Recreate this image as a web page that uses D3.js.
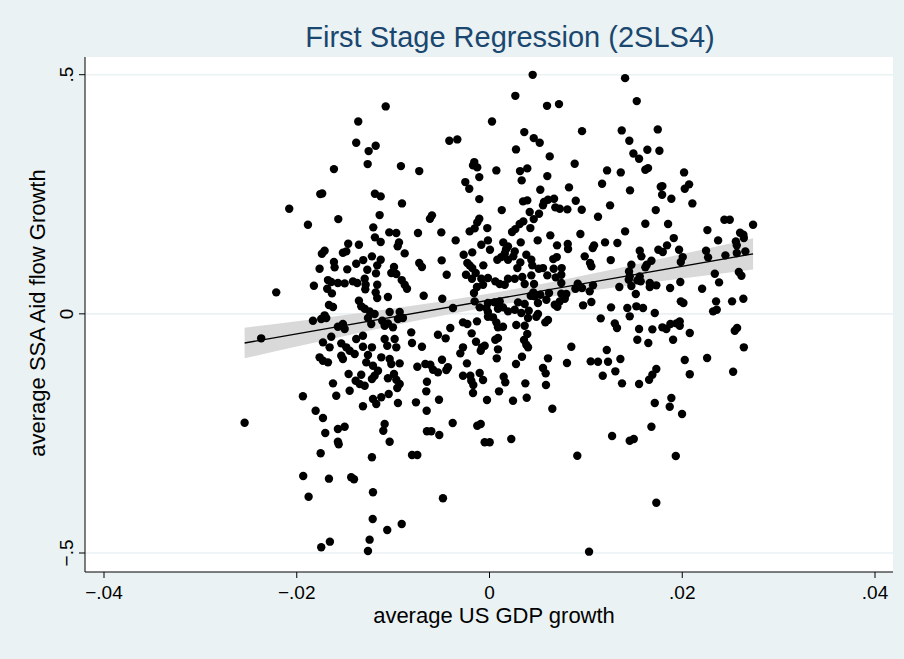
<!DOCTYPE html>
<html>
<head>
<meta charset="utf-8">
<script src="https://cdn.jsdelivr.net/npm/d3@7"></script>
<style>
  body { margin: 0; background: #eaf2f3; }
  svg { display: block; }
  text { font-family: "Liberation Sans", Arial, Helvetica, sans-serif; }
</style>
</head>
<body>
<script>
// [average US GDP growth, average SSA aid flow growth]
const points = [
  [-0.01077,0.4337],[-0.01362,0.4023],[-0.01383,0.3576],[-0.01181,0.3513],[-0.01254,0.3403],[-0.01264,0.3131],[-0.00919,0.3089],[-0.01614,0.3026],
  [0.00448,0.4997],[0.00268,0.4558],[0.00597,0.4349],[0.00721,0.4385],[0.00026,0.4023],[0.00361,0.380],[0.00459,0.3674],[0.00521,0.3576],
  [0.0096,0.382],[-0.00417,0.3618],[-0.00334,0.3647],[0.00275,0.3438],[0.00625,0.3292],[0.00884,0.3137],[-0.00729,0.2985],[-0.00158,0.3173],
  [-0.00171,0.3104],[-0.00127,0.3062],[0.00071,0.2999],[0.00317,0.2985],[0.00392,0.3041],[-0.00106,0.2859],[-0.00251,0.2755],[0.00334,0.279],
  [0.006,0.288],[-0.0021,0.2615],[0.00527,0.2594],[0.00825,0.2644],
  [0.01407,0.4928],[0.01528,0.4448],[0.01372,0.3835],[0.01746,0.3856],[0.01451,0.3618],[0.01493,0.3354],[0.01552,0.3242],[0.01638,0.343],
  [0.01763,0.3409],[0.0122,0.2999],[0.01362,0.2957],[0.01617,0.3012],[0.01645,0.3047],[0.02019,0.2957],[0.01168,0.2719],[0.01458,0.2581],
  [0.01777,0.2656],[0.01794,0.2671],[0.02026,0.2615],[0.02071,0.2707],
  [-0.01756,0.2504],[-0.01736,0.2518],[-0.01189,0.251],[-0.01129,0.2456],[-0.00908,0.2309],[-0.02078,0.2197],[-0.01884,0.1862],[-0.01569,0.1981],
  [-0.0114,0.2065],[-0.01206,0.1808],[-0.0104,0.1703],[-0.00967,0.1689],[-0.01189,0.1599],[-0.01129,0.1501],[-0.00939,0.1494],[-0.00953,0.1411],
  [-0.0088,0.1264],[-0.01466,0.1465],[-0.01355,0.1444],[-0.01711,0.1319],[-0.01739,0.1256],[-0.01521,0.1277],[-0.01486,0.1306],[-0.0122,0.1202],
  [-0.0131,0.1124],[-0.01383,0.1047],[-0.01129,0.1131],[-0.01165,0.1014],[-0.01614,0.1083],[-0.01607,0.0972],[-0.01476,0.093],[-0.01763,0.0943],
  [-0.01268,0.0922],[-0.00991,0.0978],[-0.01019,0.0853],[-0.00967,0.0832],[-0.01178,0.0846],[-0.01676,0.0706],[-0.01642,0.0665],[-0.01573,0.0644],
  [-0.01503,0.0637],[-0.01417,0.0679],[-0.01372,0.0644],[-0.01295,0.0734],[-0.01285,0.0608],[-0.01289,0.0512],[-0.01165,0.0608],[-0.00911,0.0706],
  [-0.0088,0.0608],[-0.01822,0.0587],[-0.02213,0.0449],[-0.01684,0.0525],[-0.01635,0.0428],[-0.01181,0.0449],[-0.01165,0.033],[-0.01054,0.0351],
  [-0.00856,0.0525],[-0.01355,0.0274],[-0.01666,0.0184],[-0.01624,0.0142],[-0.01331,0.0157],[-0.01295,0.0107],[-0.01244,0.0052],[-0.01192,-0.0004],
  [-0.01036,0.0038],[-0.00932,0.0038],[-0.01711,-0.0031],
  [-0.00106,0.2399],[0.00348,0.2351],[0.00392,0.2372],[0.00566,0.2337],[0.00555,0.2268],[0.00607,0.2385],[0.0067,0.2406],[0.00683,0.2226],
  [0.00729,0.2197],[0.00808,0.2184],[0.00895,0.2364],[0.00957,0.2176],[0.00127,0.2169],[0.00417,0.2128],[0.00514,0.2092],[0.00459,0.1981],
  [-0.00597,0.2059],[-0.00618,0.1988],[-0.00106,0.1988],[-0.00127,0.1912],[0.00351,0.1933],[0.00313,0.1877],[0.00268,0.1772],[0.00234,0.171],
  [0.00424,0.1793],[-0.00023,0.1793],[-0.00154,0.1787],[-0.00206,0.1724],[-0.00742,0.1689],[-0.005,0.1703],[0.00631,0.1641],[0.00943,0.1668],
  [-0.00351,0.1536],[-0.00016,0.1536],[-0.00085,0.1444],[0.00143,0.1494],[0.00192,0.1411],[0.00324,0.1494],[0.005,0.1536],[0.00701,0.1432],
  [0.00812,0.1459],[0.00815,0.1354],[-0.00179,0.1285],[0.00005,0.134],[0.00171,0.1348],[0.00158,0.1264],[0.00122,0.1187],[0.00262,0.1306],
  [0.00247,0.1202],[0.00382,0.1235],[-0.00268,0.1235],[-0.0023,0.1062],[-0.00206,0.1014],[-0.00729,0.1062],[-0.00701,0.0978],[-0.00496,0.1118],
  [0.00081,0.1131],[0.00192,0.1131],[0.0032,0.1076],[0.00434,0.1131],[0.00444,0.1014],[0.00511,0.0943],[0.00555,0.0957],[0.00662,0.1145],
  [0.00698,0.1187],[0.00988,0.1202],[-0.00064,0.1014],[0.00289,0.0957],[-0.00179,0.0957],[-0.00143,0.0853],[0.00666,0.0943],[0.00749,0.0957],
  [0.00745,0.0817],[-0.00244,0.0817],[-0.00444,0.0817],[-0.00016,0.0748],[-0.00085,0.0734],[-0.00182,0.0734],[0.0006,0.0679],[0.00106,0.0623],
  [0.00192,0.0734],[0.00262,0.0734],[0.00158,0.0608],[0.0034,0.0769],[0.00365,0.0623],[0.00434,0.0805],[0.00462,0.0623],[0.006,0.0805],
  [0.00687,0.0763],[0.00745,0.0644],[-0.00067,0.0608],[-0.0013,0.056],[-0.00161,0.0435],[0.00455,0.0449],[0.00428,0.0378],[0.00469,0.0366],
  [0.00527,0.0399],[0.00618,0.0435],[0.00745,0.042],[0.00781,0.0316],[0.00729,0.0261],[0.00677,0.019],[0.00704,0.0148],[0.00797,0.0414],
  [0.00916,0.0629],[0.00891,0.0525],[0.0096,0.0539],[-0.00683,0.0378],[-0.0049,0.0316],[-0.00154,0.0261],[-0.00016,0.0226],[0.00054,0.024],
  [0.00106,0.0261],[0.00296,0.024],[0.00365,0.0205],[0.00503,0.0226],[0.0059,0.0295],[0.00971,0.0178],[-0.00379,0.0121],[-0.00102,0.0136],
  [-0.00033,0.0121],[-0.00016,0.0038],[0.00088,0.0107],[0.0014,0.0136],[0.00192,0.0052],[0.00262,0.0086],[0.0033,0.0017],[0.00407,0.0065],
  [0.00503,-0.0004],
  [0.01791,0.2489],[0.01887,0.2406],[0.02105,0.2309],[0.01251,0.2268],[0.01126,0.2029],[0.01725,0.2169],[0.01617,0.1883],[0.01853,0.1877],
  [0.02437,0.1967],[0.02493,0.1967],[0.02735,0.1862],[0.01407,0.1724],[0.02261,0.1751],[0.026,0.1695],[0.02634,0.1653],[0.02639,0.1584],
  [0.01912,0.1584],[0.02372,0.1536],[0.01199,0.1494],[0.01327,0.148],[0.01085,0.1432],[0.01071,0.1375],[0.01842,0.1432],[0.02556,0.1515],
  [0.02566,0.1432],[0.01559,0.1319],[0.01576,0.1202],[0.01752,0.134],[0.01798,0.1292],[0.01967,0.134],[0.02247,0.1319],[0.02268,0.1181],
  [0.02448,0.1223],[0.02566,0.1271],[0.02655,0.1306],[0.02005,0.1187],[0.01985,0.1083],[0.0168,0.111],[0.01632,0.1026],[0.01617,0.0972],
  [0.01472,0.1026],[0.01258,0.1124],[0.01043,0.1062],[0.01057,0.0993],[0.01448,0.0888],[0.01455,0.0784],[0.01445,0.0713],[0.01559,0.0784],
  [0.01569,0.0679],[0.01534,0.07],[0.01663,0.0644],[0.01663,0.056],[0.01731,0.0596],[0.01472,0.0581],[0.01347,0.056],[0.01074,0.0596],
  [0.01874,0.0539],[0.0198,0.0665],[0.02206,0.0525],[0.02338,0.0838],[0.02382,0.0658],[0.02587,0.0874],[0.02614,0.0796],[0.01518,0.0414],
  [0.0104,0.047],[0.01057,0.0247],[0.01261,0.0136],[0.0143,0.0121],[0.01524,0.0157],[0.01593,0.0121],[0.01715,0.0017],[0.01985,0.0261],
  [0.02012,0.0226],[0.02351,0.0261],[0.02358,0.0086],[0.0232,0.0052],[0.02517,0.0261],[0.02634,0.0316],
  [-0.02369,-0.0512],[-0.01832,-0.0144],[-0.01746,-0.0109],[-0.01694,-0.0088],[-0.01573,-0.027],[-0.01521,-0.0213],[-0.01503,-0.0318],[-0.01261,-0.0088],
  [-0.01227,-0.0213],[-0.01113,-0.0144],[-0.01054,-0.0199],[-0.01002,-0.0282],[-0.01088,-0.0249],[-0.0095,-0.0109],[-0.00898,-0.0088],[-0.01728,-0.0596],
  [-0.01642,-0.0479],[-0.01538,-0.0617],[-0.01486,-0.07],[-0.01451,-0.0771],[-0.01399,-0.084],[-0.01659,-0.07],[-0.01383,-0.0527],[-0.01313,-0.0458],
  [-0.01313,-0.0688],[-0.0122,-0.07],[-0.01088,-0.0527],[-0.01061,-0.0667],[-0.00984,-0.0527],[-0.00967,-0.07],[-0.01261,-0.0861],[-0.01123,-0.0909],
  [-0.01763,-0.0909],[-0.01728,-0.098],[-0.01676,-0.1014],[-0.01538,-0.0876],[-0.01521,-0.0945],[-0.01279,-0.1014],[-0.01209,-0.1085],[-0.01036,-0.0945],
  [-0.01019,-0.1049],[-0.00932,-0.1035],[-0.01462,-0.1258],[-0.01331,-0.1273],[-0.01157,-0.1189],[-0.01192,-0.1294],[-0.0122,-0.1363],[-0.01054,-0.1348],
  [-0.00991,-0.1258],[-0.00967,-0.1377],[-0.00932,-0.1467],[-0.00957,-0.1551],[-0.01389,-0.1398],[-0.01347,-0.1467],[-0.01295,-0.1503],[-0.01624,-0.1453],
  [-0.0159,-0.1712],[-0.01451,-0.1607],[-0.01936,-0.1724],[-0.01313,-0.1933],[-0.01209,-0.1781],[-0.01175,-0.1885],[-0.01123,-0.1745],[-0.01046,-0.1676],
  [-0.0095,-0.1864],[-0.01804,-0.2025],[-0.01728,-0.2178],[-0.02541,-0.2276],[-0.01573,-0.2408],[-0.01503,-0.236],[-0.01704,-0.2491],[-0.01088,-0.2303],
  [-0.01102,-0.2443],[-0.01573,-0.2673],[-0.01036,-0.2673],
  [-0.00812,-0.0387],[-0.00804,-0.061],[-0.00701,-0.0688],[-0.00535,-0.0437],[-0.00455,-0.0512],[-0.00407,-0.0297],[-0.00275,-0.0178],[-0.0023,-0.0213],
  [-0.0013,-0.0157],[-0.00185,-0.0408],[-0.0014,-0.0583],[-0.00016,-0.0061],[0.00036,-0.0073],[0.00071,-0.0178],[0.00088,-0.0282],[0.0014,-0.027],
  [0.00278,-0.0234],[0.00365,-0.0249],[0.004,-0.0088],[0.00486,-0.0061],[0.00607,-0.013],[0.00579,-0.0178],[0.0006,-0.0541],[0.00088,-0.0506],
  [0.00392,-0.0422],[0.00358,-0.0548],[0.00382,-0.0646],[0.004,-0.07],[-0.00275,-0.07],[-0.00303,-0.0826],[-0.00078,-0.07],[-0.0005,-0.0667],
  [-0.00091,-0.0771],[0.00088,-0.0742],[0.00075,-0.093],[0.00337,-0.0897],[0.00275,-0.1049],[0.00849,-0.0688],[0.00607,-0.093],[0.00804,-0.1028],
  [-0.00493,-0.0959],[-0.00666,-0.1049],[-0.00614,-0.1064],[-0.00586,-0.1168],[-0.00535,-0.1223],[-0.00749,-0.1106],[-0.00431,-0.1118],[-0.00448,-0.1175],
  [-0.00234,-0.1035],[-0.00275,-0.1294],[-0.00199,-0.1294],[-0.00189,-0.1398],[-0.00102,-0.1237],[-0.00067,-0.1384],[-0.00168,-0.1488],[-0.00171,-0.1655],
  [0.00147,-0.1315],[0.00164,-0.1432],[0.00555,-0.1133],[0.00583,-0.1244],[-0.00649,-0.1419],[-0.00656,-0.162],[0.00372,-0.1453],[0.00586,-0.1488],
  [0.00099,-0.162],[-0.00763,-0.185],[-0.00524,-0.1795],[-0.00026,-0.1802],[0.00244,-0.1816],[0.00386,-0.1754],[0.00652,-0.1983],[-0.00652,-0.2025],
  [-0.00382,-0.2282],[-0.00127,-0.2339],[-0.00091,-0.2303],[-0.00649,-0.2456],[-0.00604,-0.2456],[-0.00521,-0.2533],[-0.0005,-0.2686],[0.00002,-0.2686],
  [0.00226,-0.2617],
  [0.01154,-0.0094],[0.01455,-0.0052],[0.013,-0.0199],[0.01323,-0.0297],[0.01552,-0.0318],[0.0169,-0.0324],[0.01794,-0.0282],[0.01835,-0.0318],
  [0.01877,-0.0213],[0.01939,-0.0199],[0.01974,-0.0157],[0.01974,-0.0249],[0.02078,-0.0401],[0.01905,-0.0541],[0.01534,-0.0541],[0.01648,-0.061],
  [0.02569,-0.0297],[0.02545,-0.0353],[0.02639,-0.07],[0.01217,-0.0757],[0.01358,-0.0945],[0.0105,-0.0993],[0.01126,-0.1001],[0.0123,-0.1001],
  [0.01306,-0.1202],[0.01175,-0.1294],[0.01375,-0.1453],[0.01552,-0.1467],[0.01731,-0.1154],[0.0169,-0.1273],[0.01656,-0.1377],[0.02026,-0.0966],
  [0.02258,-0.0924],[0.02078,-0.1264],[0.02528,-0.121],[0.01887,-0.176],[0.0187,-0.1942],[0.01715,-0.1864],[0.01998,-0.2094],[0.0168,-0.236],
  [0.01272,-0.2554],[0.01455,-0.2652],[0.01497,-0.2617],
  [-0.01565,-0.2727],[-0.01752,-0.2916],[-0.0122,-0.2999],[-0.01933,-0.339],[-0.01666,-0.3446],[-0.01435,-0.3417],[-0.01406,-0.3459],[-0.01877,-0.3823],
  [-0.01209,-0.3731],[-0.01212,-0.4289],[-0.01061,-0.4519],[-0.00911,-0.4393],[-0.01656,-0.4763],[-0.01746,-0.488],[-0.01244,-0.4721],[-0.01261,-0.4957],
  [-0.00804,-0.2951],[-0.00749,-0.2951],[0.00911,-0.2966],[-0.00483,-0.3856],[0.01033,-0.4972],
  [0.01933,-0.2972],[0.01731,-0.3948]
];

// fitted line and 95% CI band
const fitX = [-0.02541, 0.02735];
const fitY = [-0.061, 0.1254];
const ciX  = [-0.02541, -0.02, -0.015, -0.01, -0.005, 0, 0.005, 0.01, 0.015, 0.02, 0.02735];
const ciLo = [-0.093, -0.0685, -0.0463, -0.0245, -0.0038, 0.0151, 0.0319, 0.0468, 0.0606, 0.0737, 0.0925];
const ciHi = [-0.029, -0.0153, -0.0023, 0.0113, 0.026, 0.0423, 0.0609, 0.0812, 0.1028, 0.1249, 0.1583];

const xTicks = [-0.04, -0.02, 0, 0.02, 0.04];
const xTickLabels = ["\u2212.04", "\u2212.02", "0", ".02", ".04"];
const yTicks = [-0.5, 0, 0.5];
const yTickLabels = ["\u2212.5", "0", ".5"];

const width = 904, height = 659;
const plot = { left: 85, right: 893, top: 57, bottom: 572 };

const svg = d3.select("body").append("svg")
    .attr("width", width)
    .attr("height", height);

svg.append("rect")
    .attr("width", width).attr("height", height)
    .attr("fill", "#eaf2f3");

svg.append("rect")
    .attr("x", plot.left).attr("y", plot.top)
    .attr("width", plot.right - plot.left)
    .attr("height", plot.bottom - plot.top)
    .attr("fill", "#ffffff");

const x = d3.scaleLinear().domain([-0.04, 0.04]).range([104, 875]);
const y = d3.scaleLinear().domain([-0.5, 0.5]).range([553, 74.7]);

// gridlines
svg.append("g")
    .selectAll("line")
    .data(yTicks)
    .join("line")
    .attr("x1", plot.left).attr("x2", plot.right)
    .attr("y1", d => y(d)).attr("y2", d => y(d))
    .attr("stroke", "#eaf2f3")
    .attr("stroke-width", 1.6);

// CI band
const band = ciX.map((v, i) => ({ x: v, lo: ciLo[i], hi: ciHi[i] }));
svg.append("path")
    .datum(band)
    .attr("d", d3.area().x(d => x(d.x)).y0(d => y(d.lo)).y1(d => y(d.hi)).curve(d3.curveMonotoneX))
    .attr("fill", "#d9d9d9");

// scatter
svg.append("g")
    .selectAll("circle")
    .data(points)
    .join("circle")
    .attr("cx", d => x(d[0]))
    .attr("cy", d => y(d[1]))
    .attr("r", 4.2)
    .attr("fill", "#000");

// fitted line
svg.append("path")
    .datum(fitX.map((v, i) => [v, fitY[i]]))
    .attr("d", d3.line().x(d => x(d[0])).y(d => y(d[1])))
    .attr("fill", "none")
    .attr("stroke", "#000")
    .attr("stroke-width", 1.4);

// x axis
const xAxis = svg.append("g");
xAxis.append("line")
    .attr("x1", plot.left).attr("x2", plot.right)
    .attr("y1", plot.bottom).attr("y2", plot.bottom)
    .attr("stroke", "#000");
xAxis.selectAll(".tick")
    .data(xTicks)
    .join("line")
    .attr("x1", d => x(d)).attr("x2", d => x(d))
    .attr("y1", plot.bottom).attr("y2", plot.bottom + 6)
    .attr("stroke", "#000");
xAxis.selectAll("text")
    .data(xTicks)
    .join("text")
    .attr("x", d => x(d))
    .attr("y", plot.bottom + 27)
    .attr("text-anchor", "middle")
    .attr("font-size", 19)
    .text((d, i) => xTickLabels[i]);

// y axis
const yAxis = svg.append("g");
yAxis.append("line")
    .attr("x1", plot.left).attr("x2", plot.left)
    .attr("y1", plot.top).attr("y2", plot.bottom)
    .attr("stroke", "#000");
yAxis.selectAll(".tick")
    .data(yTicks)
    .join("line")
    .attr("x1", plot.left - 6).attr("x2", plot.left)
    .attr("y1", d => y(d)).attr("y2", d => y(d))
    .attr("stroke", "#000");
yAxis.selectAll("text")
    .data(yTicks)
    .join("text")
    .attr("transform", d => `translate(${plot.left - 12},${y(d)}) rotate(-90)`)
    .attr("text-anchor", "middle")
    .attr("font-size", 19)
    .text((d, i) => yTickLabels[i]);

// titles
svg.append("text")
    .attr("x", 510).attr("y", 47)
    .attr("text-anchor", "middle")
    .attr("font-size", 29)
    .attr("fill", "#1a476f")
    .text("First Stage Regression (2SLS4)");

svg.append("text")
    .attr("x", 494).attr("y", 623)
    .attr("text-anchor", "middle")
    .attr("font-size", 22)
    .text("average US GDP growth");

svg.append("text")
    .attr("transform", `translate(45,313) rotate(-90)`)
    .attr("text-anchor", "middle")
    .attr("font-size", 22)
    .text("average SSA Aid flow Growth");
</script>
</body>
</html>
